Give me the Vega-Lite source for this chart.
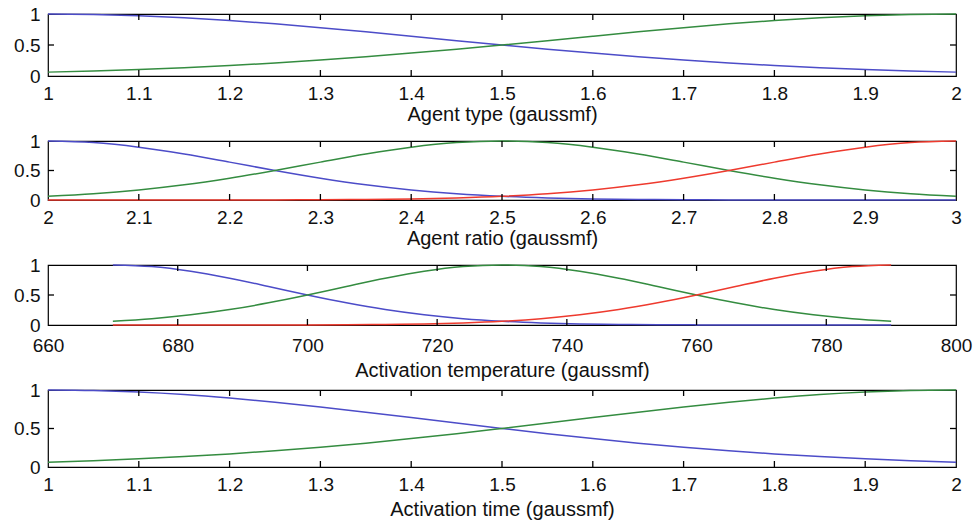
{
  "$schema": "https://vega.github.io/schema/vega-lite/v6.json",
  "background": "white",
  "padding": {"left": 12, "top": 4, "right": 5, "bottom": 3},
  "config": {
    "font": "Liberation Sans",
    "view": {"stroke": "#000", "strokeWidth": 1.2},
    "axis": {"domain": false, "ticks": false, "grid": false,
      "labelFont": "Liberation Sans", "labelFontSize": 19, "labelColor": "#111", "labelPadding": 8,
      "titleFont": "Liberation Sans", "titleFontSize": 20, "titleFontWeight": "normal", "titleColor": "#111",
      "labelFlush": false, "labelOverlap": false, "labelBound": false, "format": ".4~g"},
    "line": {"strokeWidth": 1.5, "interpolate": "monotone"},
    "tick": {"thickness": 1.3, "color": "#000", "opacity": 1}
  },
  "bounds": "flush",
  "spacing": 65,
  "datasets": {
    "xt1": [{"x":1.1},{"x":1.2},{"x":1.3},{"x":1.4},{"x":1.5},{"x":1.6},{"x":1.7},{"x":1.8},{"x":1.9}],
    "xt2": [{"x":2.1},{"x":2.2},{"x":2.3},{"x":2.4},{"x":2.5},{"x":2.6},{"x":2.7},{"x":2.8},{"x":2.9}],
    "xt3": [{"x":680},{"x":700},{"x":720},{"x":740},{"x":760},{"x":780}],
    "yt": [{"y":0.5}],
    "p1": [
      {"x":1,"s":"b","y":1},{"x":1.05,"s":"b","y":0.993},{"x":1.1,"s":"b","y":0.973},{"x":1.15,"s":"b","y":0.94},{"x":1.2,"s":"b","y":0.895},{"x":1.25,"s":"b","y":0.841},{"x":1.3,"s":"b","y":0.779},{"x":1.35,"s":"b","y":0.712},{"x":1.4,"s":"b","y":0.642},{"x":1.45,"s":"b","y":0.57},{"x":1.5,"s":"b","y":0.5},{"x":1.55,"s":"b","y":0.432},{"x":1.6,"s":"b","y":0.369},{"x":1.65,"s":"b","y":0.31},{"x":1.7,"s":"b","y":0.257},{"x":1.75,"s":"b","y":0.21},{"x":1.8,"s":"b","y":0.17},{"x":1.85,"s":"b","y":0.135},{"x":1.9,"s":"b","y":0.106},{"x":1.95,"s":"b","y":0.082},{"x":2,"s":"b","y":0.0625},
      {"x":1,"s":"g","y":0.0625},{"x":1.05,"s":"g","y":0.082},{"x":1.1,"s":"g","y":0.106},{"x":1.15,"s":"g","y":0.135},{"x":1.2,"s":"g","y":0.17},{"x":1.25,"s":"g","y":0.21},{"x":1.3,"s":"g","y":0.257},{"x":1.35,"s":"g","y":0.31},{"x":1.4,"s":"g","y":0.369},{"x":1.45,"s":"g","y":0.432},{"x":1.5,"s":"g","y":0.5},{"x":1.55,"s":"g","y":0.57},{"x":1.6,"s":"g","y":0.642},{"x":1.65,"s":"g","y":0.712},{"x":1.7,"s":"g","y":0.779},{"x":1.75,"s":"g","y":0.841},{"x":1.8,"s":"g","y":0.895},{"x":1.85,"s":"g","y":0.94},{"x":1.9,"s":"g","y":0.973},{"x":1.95,"s":"g","y":0.993},{"x":2,"s":"g","y":1}
    ],
    "p2": [
      {"x":2,"s":"b","y":1},{"x":2.05,"s":"b","y":0.973},{"x":2.1,"s":"b","y":0.895},{"x":2.15,"s":"b","y":0.779},{"x":2.2,"s":"b","y":0.642},{"x":2.25,"s":"b","y":0.5},{"x":2.3,"s":"b","y":0.369},{"x":2.35,"s":"b","y":0.257},{"x":2.4,"s":"b","y":0.17},{"x":2.45,"s":"b","y":0.106},{"x":2.5,"s":"b","y":0.0625},{"x":2.55,"s":"b","y":0.035},{"x":2.6,"s":"b","y":0.018},{"x":2.65,"s":"b","y":0.009},{"x":2.7,"s":"b","y":0.004},{"x":2.75,"s":"b","y":0.002},{"x":2.8,"s":"b","y":0.001},{"x":2.85,"s":"b","y":0},{"x":2.9,"s":"b","y":0},{"x":2.95,"s":"b","y":0},{"x":3,"s":"b","y":0},
      {"x":2,"s":"g","y":0.0625},{"x":2.05,"s":"g","y":0.106},{"x":2.1,"s":"g","y":0.17},{"x":2.15,"s":"g","y":0.257},{"x":2.2,"s":"g","y":0.369},{"x":2.25,"s":"g","y":0.5},{"x":2.3,"s":"g","y":0.642},{"x":2.35,"s":"g","y":0.779},{"x":2.4,"s":"g","y":0.895},{"x":2.45,"s":"g","y":0.973},{"x":2.5,"s":"g","y":1},{"x":2.55,"s":"g","y":0.973},{"x":2.6,"s":"g","y":0.895},{"x":2.65,"s":"g","y":0.779},{"x":2.7,"s":"g","y":0.642},{"x":2.75,"s":"g","y":0.5},{"x":2.8,"s":"g","y":0.369},{"x":2.85,"s":"g","y":0.257},{"x":2.9,"s":"g","y":0.17},{"x":2.95,"s":"g","y":0.106},{"x":3,"s":"g","y":0.0625},
      {"x":2,"s":"r","y":0},{"x":2.05,"s":"r","y":0},{"x":2.1,"s":"r","y":0},{"x":2.15,"s":"r","y":0},{"x":2.2,"s":"r","y":0.001},{"x":2.25,"s":"r","y":0.002},{"x":2.3,"s":"r","y":0.004},{"x":2.35,"s":"r","y":0.009},{"x":2.4,"s":"r","y":0.018},{"x":2.45,"s":"r","y":0.035},{"x":2.5,"s":"r","y":0.0625},{"x":2.55,"s":"r","y":0.106},{"x":2.6,"s":"r","y":0.17},{"x":2.65,"s":"r","y":0.257},{"x":2.7,"s":"r","y":0.369},{"x":2.75,"s":"r","y":0.5},{"x":2.8,"s":"r","y":0.642},{"x":2.85,"s":"r","y":0.779},{"x":2.9,"s":"r","y":0.895},{"x":2.95,"s":"r","y":0.973},{"x":3,"s":"r","y":1}
    ],
    "p3": [
      {"x":670,"s":"b","y":1},{"x":676,"s":"b","y":0.973},{"x":682,"s":"b","y":0.895},{"x":688,"s":"b","y":0.779},{"x":694,"s":"b","y":0.642},{"x":700,"s":"b","y":0.5},{"x":706,"s":"b","y":0.369},{"x":712,"s":"b","y":0.257},{"x":718,"s":"b","y":0.17},{"x":724,"s":"b","y":0.106},{"x":730,"s":"b","y":0.0625},{"x":736,"s":"b","y":0.035},{"x":742,"s":"b","y":0.018},{"x":748,"s":"b","y":0.009},{"x":754,"s":"b","y":0.004},{"x":760,"s":"b","y":0.002},{"x":766,"s":"b","y":0.001},{"x":772,"s":"b","y":0},{"x":778,"s":"b","y":0},{"x":784,"s":"b","y":0},{"x":790,"s":"b","y":0},
      {"x":670,"s":"g","y":0.0625},{"x":676,"s":"g","y":0.106},{"x":682,"s":"g","y":0.17},{"x":688,"s":"g","y":0.257},{"x":694,"s":"g","y":0.369},{"x":700,"s":"g","y":0.5},{"x":706,"s":"g","y":0.642},{"x":712,"s":"g","y":0.779},{"x":718,"s":"g","y":0.895},{"x":724,"s":"g","y":0.973},{"x":730,"s":"g","y":1},{"x":736,"s":"g","y":0.973},{"x":742,"s":"g","y":0.895},{"x":748,"s":"g","y":0.779},{"x":754,"s":"g","y":0.642},{"x":760,"s":"g","y":0.5},{"x":766,"s":"g","y":0.369},{"x":772,"s":"g","y":0.257},{"x":778,"s":"g","y":0.17},{"x":784,"s":"g","y":0.106},{"x":790,"s":"g","y":0.0625},
      {"x":670,"s":"r","y":0},{"x":676,"s":"r","y":0},{"x":682,"s":"r","y":0},{"x":688,"s":"r","y":0},{"x":694,"s":"r","y":0.001},{"x":700,"s":"r","y":0.002},{"x":706,"s":"r","y":0.004},{"x":712,"s":"r","y":0.009},{"x":718,"s":"r","y":0.018},{"x":724,"s":"r","y":0.035},{"x":730,"s":"r","y":0.0625},{"x":736,"s":"r","y":0.106},{"x":742,"s":"r","y":0.17},{"x":748,"s":"r","y":0.257},{"x":754,"s":"r","y":0.369},{"x":760,"s":"r","y":0.5},{"x":766,"s":"r","y":0.642},{"x":772,"s":"r","y":0.779},{"x":778,"s":"r","y":0.895},{"x":784,"s":"r","y":0.973},{"x":790,"s":"r","y":1}
    ],
    "p4": [
      {"x":1,"s":"b","y":1},{"x":1.05,"s":"b","y":0.993},{"x":1.1,"s":"b","y":0.973},{"x":1.15,"s":"b","y":0.94},{"x":1.2,"s":"b","y":0.895},{"x":1.25,"s":"b","y":0.841},{"x":1.3,"s":"b","y":0.779},{"x":1.35,"s":"b","y":0.712},{"x":1.4,"s":"b","y":0.642},{"x":1.45,"s":"b","y":0.57},{"x":1.5,"s":"b","y":0.5},{"x":1.55,"s":"b","y":0.432},{"x":1.6,"s":"b","y":0.369},{"x":1.65,"s":"b","y":0.31},{"x":1.7,"s":"b","y":0.257},{"x":1.75,"s":"b","y":0.21},{"x":1.8,"s":"b","y":0.17},{"x":1.85,"s":"b","y":0.135},{"x":1.9,"s":"b","y":0.106},{"x":1.95,"s":"b","y":0.082},{"x":2,"s":"b","y":0.0625},
      {"x":1,"s":"g","y":0.0625},{"x":1.05,"s":"g","y":0.082},{"x":1.1,"s":"g","y":0.106},{"x":1.15,"s":"g","y":0.135},{"x":1.2,"s":"g","y":0.17},{"x":1.25,"s":"g","y":0.21},{"x":1.3,"s":"g","y":0.257},{"x":1.35,"s":"g","y":0.31},{"x":1.4,"s":"g","y":0.369},{"x":1.45,"s":"g","y":0.432},{"x":1.5,"s":"g","y":0.5},{"x":1.55,"s":"g","y":0.57},{"x":1.6,"s":"g","y":0.642},{"x":1.65,"s":"g","y":0.712},{"x":1.7,"s":"g","y":0.779},{"x":1.75,"s":"g","y":0.841},{"x":1.8,"s":"g","y":0.895},{"x":1.85,"s":"g","y":0.94},{"x":1.9,"s":"g","y":0.973},{"x":1.95,"s":"g","y":0.993},{"x":2,"s":"g","y":1}
    ]
  },
  "vconcat": [
    {
      "width": 908, "height": 62,
      "layer": [
        {"data": {"name": "p1"}, "mark": "line", "encoding": {
          "x": {"field": "x", "type": "quantitative", "scale": {"domain": [1, 2], "nice": false, "zero": false},
                "axis": {"values": [1,1.1,1.2,1.3,1.4,1.5,1.6,1.7,1.8,1.9,2], "title": "Agent type (gaussmf)", "titlePadding": 1}},
          "y": {"field": "y", "type": "quantitative", "scale": {"domain": [0, 1], "nice": false},
                "axis": {"values": [0, 0.5, 1], "title": null}},
          "color": {"field": "s", "type": "nominal", "scale": {"domain": ["b","g","r"], "range": ["#4c4cc8","#348c40","#ee3a2e"]}, "legend": null}}},
        {"data": {"name": "xt1"}, "mark": {"type": "tick", "orient": "vertical", "size": 6, "yOffset": -3}, "encoding": {
          "x": {"field": "x", "type": "quantitative", "axis": {"values": [1,1.1,1.2,1.3,1.4,1.5,1.6,1.7,1.8,1.9,2], "title": "Agent type (gaussmf)", "titlePadding": 1}},
          "y": {"datum": 0, "type": "quantitative", "axis": {"values": [0, 0.5, 1], "title": null}}}},
        {"data": {"name": "xt1"}, "mark": {"type": "tick", "orient": "vertical", "size": 6, "yOffset": 3}, "encoding": {
          "x": {"field": "x", "type": "quantitative", "axis": {"values": [1,1.1,1.2,1.3,1.4,1.5,1.6,1.7,1.8,1.9,2], "title": "Agent type (gaussmf)", "titlePadding": 1}},
          "y": {"datum": 1, "type": "quantitative", "axis": {"values": [0, 0.5, 1], "title": null}}}},
        {"data": {"name": "yt"}, "mark": {"type": "tick", "orient": "horizontal", "size": 6, "xOffset": 3}, "encoding": {
          "y": {"field": "y", "type": "quantitative", "axis": {"values": [0, 0.5, 1], "title": null}},
          "x": {"datum": 1, "type": "quantitative", "axis": {"values": [1,1.1,1.2,1.3,1.4,1.5,1.6,1.7,1.8,1.9,2], "title": "Agent type (gaussmf)", "titlePadding": 1}}}},
        {"data": {"name": "yt"}, "mark": {"type": "tick", "orient": "horizontal", "size": 6, "xOffset": -3}, "encoding": {
          "y": {"field": "y", "type": "quantitative", "axis": {"values": [0, 0.5, 1], "title": null}},
          "x": {"datum": 2, "type": "quantitative", "axis": {"values": [1,1.1,1.2,1.3,1.4,1.5,1.6,1.7,1.8,1.9,2], "title": "Agent type (gaussmf)", "titlePadding": 1}}}}
      ]
    },
    {
      "width": 908, "height": 59,
      "layer": [
        {"data": {"name": "p2"}, "mark": "line", "encoding": {
          "x": {"field": "x", "type": "quantitative", "scale": {"domain": [2, 3], "nice": false, "zero": false},
                "axis": {"values": [2,2.1,2.2,2.3,2.4,2.5,2.6,2.7,2.8,2.9,3], "title": "Agent ratio (gaussmf)", "titlePadding": 1}},
          "y": {"field": "y", "type": "quantitative", "scale": {"domain": [0, 1], "nice": false},
                "axis": {"values": [0, 0.5, 1], "title": null}},
          "color": {"field": "s", "type": "nominal", "scale": {"domain": ["b","g","r"], "range": ["#4c4cc8","#348c40","#ee3a2e"]}, "legend": null}}},
        {"data": {"name": "xt2"}, "mark": {"type": "tick", "orient": "vertical", "size": 6, "yOffset": -3}, "encoding": {
          "x": {"field": "x", "type": "quantitative", "axis": {"values": [2,2.1,2.2,2.3,2.4,2.5,2.6,2.7,2.8,2.9,3], "title": "Agent ratio (gaussmf)", "titlePadding": 1}},
          "y": {"datum": 0, "type": "quantitative", "axis": {"values": [0, 0.5, 1], "title": null}}}},
        {"data": {"name": "xt2"}, "mark": {"type": "tick", "orient": "vertical", "size": 6, "yOffset": 3}, "encoding": {
          "x": {"field": "x", "type": "quantitative", "axis": {"values": [2,2.1,2.2,2.3,2.4,2.5,2.6,2.7,2.8,2.9,3], "title": "Agent ratio (gaussmf)", "titlePadding": 1}},
          "y": {"datum": 1, "type": "quantitative", "axis": {"values": [0, 0.5, 1], "title": null}}}},
        {"data": {"name": "yt"}, "mark": {"type": "tick", "orient": "horizontal", "size": 6, "xOffset": 3}, "encoding": {
          "y": {"field": "y", "type": "quantitative", "axis": {"values": [0, 0.5, 1], "title": null}},
          "x": {"datum": 2, "type": "quantitative", "axis": {"values": [2,2.1,2.2,2.3,2.4,2.5,2.6,2.7,2.8,2.9,3], "title": "Agent ratio (gaussmf)", "titlePadding": 1}}}},
        {"data": {"name": "yt"}, "mark": {"type": "tick", "orient": "horizontal", "size": 6, "xOffset": -3}, "encoding": {
          "y": {"field": "y", "type": "quantitative", "axis": {"values": [0, 0.5, 1], "title": null}},
          "x": {"datum": 3, "type": "quantitative", "axis": {"values": [2,2.1,2.2,2.3,2.4,2.5,2.6,2.7,2.8,2.9,3], "title": "Agent ratio (gaussmf)", "titlePadding": 1}}}}
      ]
    },
    {
      "width": 908, "height": 60,
      "layer": [
        {"data": {"name": "p3"}, "mark": "line", "encoding": {
          "x": {"field": "x", "type": "quantitative", "scale": {"domain": [660, 800], "nice": false, "zero": false},
                "axis": {"values": [660,680,700,720,740,760,780,800], "title": "Activation temperature (gaussmf)", "titlePadding": 5, "labelPadding": 11}},
          "y": {"field": "y", "type": "quantitative", "scale": {"domain": [0, 1], "nice": false},
                "axis": {"values": [0, 0.5, 1], "title": null}},
          "color": {"field": "s", "type": "nominal", "scale": {"domain": ["b","g","r"], "range": ["#4c4cc8","#348c40","#ee3a2e"]}, "legend": null}}},
        {"data": {"name": "xt3"}, "mark": {"type": "tick", "orient": "vertical", "size": 6, "yOffset": -3}, "encoding": {
          "x": {"field": "x", "type": "quantitative", "axis": {"values": [660,680,700,720,740,760,780,800], "title": "Activation temperature (gaussmf)", "titlePadding": 5, "labelPadding": 11}},
          "y": {"datum": 0, "type": "quantitative", "axis": {"values": [0, 0.5, 1], "title": null}}}},
        {"data": {"name": "xt3"}, "mark": {"type": "tick", "orient": "vertical", "size": 6, "yOffset": 3}, "encoding": {
          "x": {"field": "x", "type": "quantitative", "axis": {"values": [660,680,700,720,740,760,780,800], "title": "Activation temperature (gaussmf)", "titlePadding": 5, "labelPadding": 11}},
          "y": {"datum": 1, "type": "quantitative", "axis": {"values": [0, 0.5, 1], "title": null}}}},
        {"data": {"name": "yt"}, "mark": {"type": "tick", "orient": "horizontal", "size": 6, "xOffset": 3}, "encoding": {
          "y": {"field": "y", "type": "quantitative", "axis": {"values": [0, 0.5, 1], "title": null}},
          "x": {"datum": 660, "type": "quantitative", "axis": {"values": [660,680,700,720,740,760,780,800], "title": "Activation temperature (gaussmf)", "titlePadding": 5, "labelPadding": 11}}}},
        {"data": {"name": "yt"}, "mark": {"type": "tick", "orient": "horizontal", "size": 6, "xOffset": -3}, "encoding": {
          "y": {"field": "y", "type": "quantitative", "axis": {"values": [0, 0.5, 1], "title": null}},
          "x": {"datum": 800, "type": "quantitative", "axis": {"values": [660,680,700,720,740,760,780,800], "title": "Activation temperature (gaussmf)", "titlePadding": 5, "labelPadding": 11}}}}
      ]
    },
    {
      "width": 908, "height": 77,
      "layer": [
        {"data": {"name": "p4"}, "mark": "line", "encoding": {
          "x": {"field": "x", "type": "quantitative", "scale": {"domain": [1, 2], "nice": false, "zero": false},
                "axis": {"values": [1,1.1,1.2,1.3,1.4,1.5,1.6,1.7,1.8,1.9,2], "title": "Activation time (gaussmf)", "titlePadding": 5}},
          "y": {"field": "y", "type": "quantitative", "scale": {"domain": [0, 1], "nice": false},
                "axis": {"values": [0, 0.5, 1], "title": null}},
          "color": {"field": "s", "type": "nominal", "scale": {"domain": ["b","g","r"], "range": ["#4c4cc8","#348c40","#ee3a2e"]}, "legend": null}}},
        {"data": {"name": "xt1"}, "mark": {"type": "tick", "orient": "vertical", "size": 6, "yOffset": -3}, "encoding": {
          "x": {"field": "x", "type": "quantitative", "axis": {"values": [1,1.1,1.2,1.3,1.4,1.5,1.6,1.7,1.8,1.9,2], "title": "Activation time (gaussmf)", "titlePadding": 5}},
          "y": {"datum": 0, "type": "quantitative", "axis": {"values": [0, 0.5, 1], "title": null}}}},
        {"data": {"name": "xt1"}, "mark": {"type": "tick", "orient": "vertical", "size": 6, "yOffset": 3}, "encoding": {
          "x": {"field": "x", "type": "quantitative", "axis": {"values": [1,1.1,1.2,1.3,1.4,1.5,1.6,1.7,1.8,1.9,2], "title": "Activation time (gaussmf)", "titlePadding": 5}},
          "y": {"datum": 1, "type": "quantitative", "axis": {"values": [0, 0.5, 1], "title": null}}}},
        {"data": {"name": "yt"}, "mark": {"type": "tick", "orient": "horizontal", "size": 6, "xOffset": 3}, "encoding": {
          "y": {"field": "y", "type": "quantitative", "axis": {"values": [0, 0.5, 1], "title": null}},
          "x": {"datum": 1, "type": "quantitative", "axis": {"values": [1,1.1,1.2,1.3,1.4,1.5,1.6,1.7,1.8,1.9,2], "title": "Activation time (gaussmf)", "titlePadding": 5}}}},
        {"data": {"name": "yt"}, "mark": {"type": "tick", "orient": "horizontal", "size": 6, "xOffset": -3}, "encoding": {
          "y": {"field": "y", "type": "quantitative", "axis": {"values": [0, 0.5, 1], "title": null}},
          "x": {"datum": 2, "type": "quantitative", "axis": {"values": [1,1.1,1.2,1.3,1.4,1.5,1.6,1.7,1.8,1.9,2], "title": "Activation time (gaussmf)", "titlePadding": 5}}}}
      ]
    }
  ]
}
